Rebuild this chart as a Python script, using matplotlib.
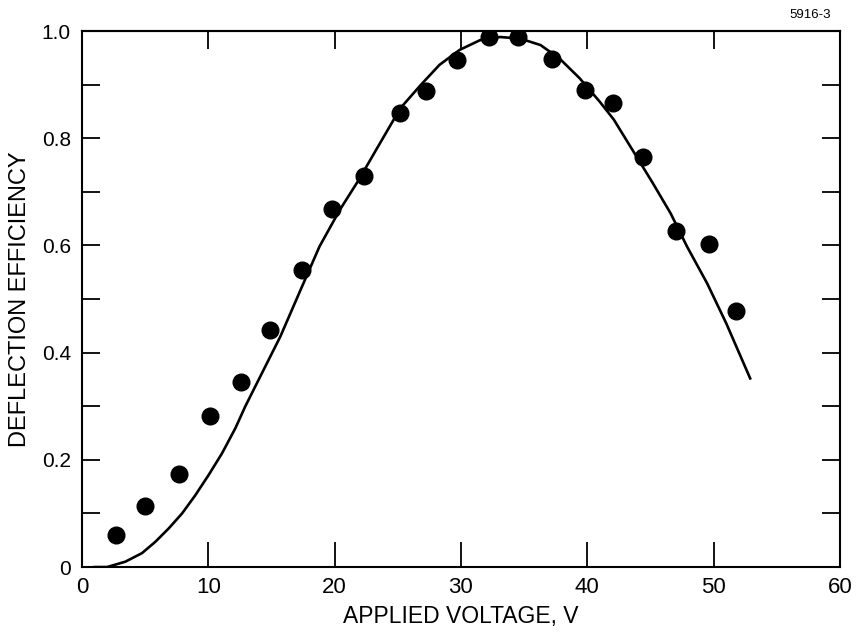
import matplotlib

matplotlib.use("Agg")
import matplotlib.pyplot as plt
from matplotlib.ticker import MultipleLocator

# measured points (applied voltage, deflection efficiency)
volts = [2.67, 5.0, 7.7, 10.1, 12.6, 14.9, 17.4, 19.8, 22.3, 25.2, 27.2,
         29.7, 32.2, 34.5, 37.2, 39.8, 42.0, 44.4, 47.0, 49.6, 51.8]
eff = [0.060, 0.114, 0.174, 0.282, 0.346, 0.442, 0.554, 0.668, 0.729, 0.847,
       0.889, 0.946, 0.989, 0.989, 0.948, 0.890, 0.866, 0.766, 0.627, 0.603,
       0.478]

# theory curve
curve_v = [1.0, 1.98, 3.43, 4.75, 5.80, 6.86, 7.92, 8.97, 10.03, 11.08,
           12.14, 12.93, 14.1, 15.7, 17.3, 18.8, 20.4, 21.9, 23.2, 25.2,
           26.8, 28.3, 29.9, 31.5, 33.1, 34.7, 36.3, 37.8, 39.4, 41.0, 42.1,
           43.9, 45.2, 46.6, 47.9, 49.5, 51.0, 52.9]
curve_e = [0.0, 0.0, 0.010, 0.026, 0.047, 0.072, 0.100, 0.134, 0.172, 0.212,
           0.259, 0.300, 0.355, 0.430, 0.517, 0.598, 0.666, 0.722, 0.775,
           0.856, 0.899, 0.937, 0.965, 0.983, 0.989, 0.986, 0.974, 0.949,
           0.912, 0.868, 0.835, 0.766, 0.716, 0.660, 0.598, 0.529, 0.455,
           0.352]

x_ticks = [0, 10, 20, 30, 40, 50, 60]
y_ticks = [0, 0.2, 0.4, 0.6, 0.8, 1.0]
y_labels = ["0", "0.2", "0.4", "0.6", "0.8", "1.0"]

FONT = ["Liberation Sans", "DejaVu Sans"]

fig = plt.figure(figsize=(8.57, 6.35), dpi=100)
ax = fig.add_axes([0.0957, 0.107, 0.8843, 0.844])

ax.plot(curve_v, curve_e, color="black", lw=1.9, solid_joinstyle="round")
ax.plot(volts, eff, "o", color="black", ms=12, mec="black")

ax.set_xlim(0, 60)
ax.set_ylim(0, 1.0)
ax.set_xticks(x_ticks)
ax.set_yticks(y_ticks)
ax.set_yticklabels(y_labels)
ax.yaxis.set_minor_locator(MultipleLocator(0.1))

ax.tick_params(which="both", direction="in", right=True, width=1.3,
               color="black")
ax.tick_params(axis="x", which="major", length=18, pad=7)
ax.tick_params(axis="y", which="major", length=13, pad=8)
ax.tick_params(axis="y", which="minor", length=13)

# top ticks are shorter than bottom ones
top = ax.secondary_xaxis("top")
top.set_xticks(x_ticks)
top.tick_params(direction="in", length=13, width=1.3, labeltop=False)
top.spines["top"].set_linewidth(1.5)

for lbl in ax.get_xticklabels():
    lbl.set_fontfamily(FONT)
    lbl.set_fontsize(16)
for lbl in ax.get_yticklabels():
    lbl.set_fontfamily(FONT)
    lbl.set_fontsize(15)

for s in ax.spines.values():
    s.set_linewidth(1.5)

ax.set_xlabel("APPLIED VOLTAGE, V", fontsize=16.5, labelpad=5, family=FONT)
ax.set_ylabel("DEFLECTION EFFICIENCY", fontsize=17, labelpad=8, family=FONT)

fig.text(0.945, 0.976, "5916-3", fontsize=9.5, ha="center", va="center",
         family=FONT)

fig.savefig("out.png", dpi=100, facecolor="white")
